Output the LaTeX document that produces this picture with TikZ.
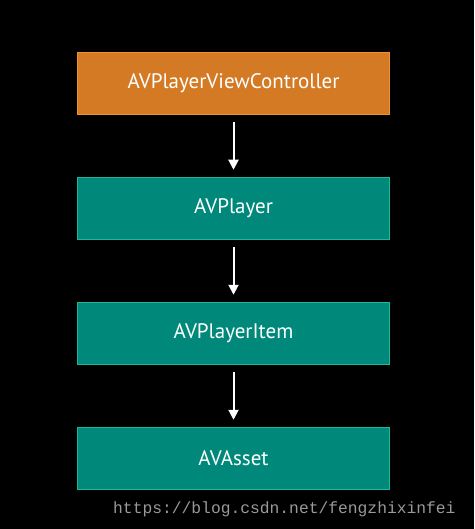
\documentclass[tikz,border=0pt]{standalone}
\usepackage{fontspec}
\setmainfont{PT Sans}
\newfontfamily\wmfont{Liberation Mono}
\usetikzlibrary{arrows.meta}
\definecolor{avorange}{HTML}{D47A24}
\definecolor{avorangeline}{HTML}{F2922E}
\definecolor{avteal}{HTML}{00897A}
\definecolor{avtealline}{HTML}{1CB89A}
\tikzset{
    avbox/.style={draw, line width=1.5pt, minimum width=312pt, minimum height=62pt,
        text=white, font=\fontsize{21}{25}\selectfont, inner sep=0pt},
    avlink/.style={white, line width=2pt, -{Triangle[width=10pt,length=10pt]},
        shorten <=7pt, shorten >=7pt}
}

\begin{document}
\begin{tikzpicture}[x=1pt,y=-1pt]
    \fill[black] (0,0) rectangle (474,529);
    \useasboundingbox (0,0) rectangle (474,529);
    \node[avbox, fill=avorange, draw=avorangeline] (vc) at (233.5,83.5) {AVPlayerViewController};
    \node[avbox, fill=avteal, draw=avtealline] (player) at (233.5,208.5) {AVPlayer};
    \node[avbox, fill=avteal, draw=avtealline] (item) at (233.5,333.5) {AVPlayerItem};
    \node[avbox, fill=avteal, draw=avtealline] (asset) at (233.5,458.5) {AVAsset};
    \draw[avlink] (vc) -- (player);
    \draw[avlink] (player) -- (item);
    \draw[avlink] (item) -- (asset);
    \node[text=gray!80, font=\wmfont\fontsize{16.3}{18}\selectfont, anchor=west, inner sep=0pt] (wm) at (113,509) {https://blog.csdn.net/fengzhixinfei};
\end{tikzpicture}
\end{document}
